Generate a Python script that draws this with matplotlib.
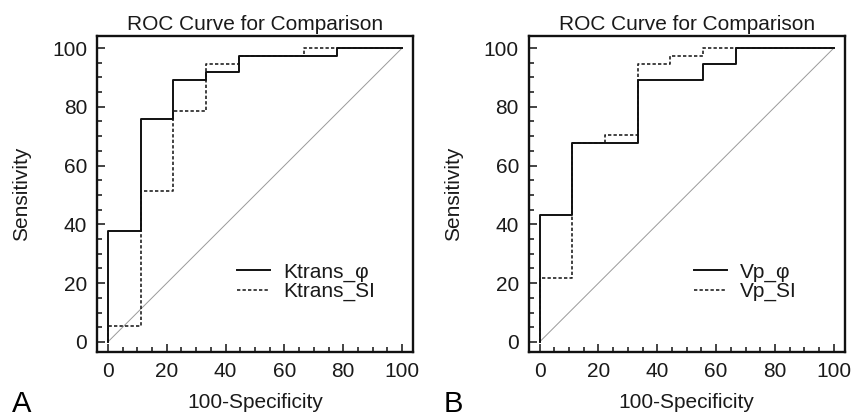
import matplotlib
matplotlib.use("Agg")
import matplotlib.pyplot as plt
from matplotlib.ticker import MultipleLocator

plt.rcParams['font.family'] = ['Liberation Sans', 'DejaVu Sans']

# ROC corner points (100-Specificity, Sensitivity), drawn as post steps
ktrans_phi_x = [0, 0, 11.1, 22.2, 33.3, 44.4, 77.8, 100]
ktrans_phi_y = [0, 37.8, 75.7, 89.2, 91.9, 97.3, 100, 100]
ktrans_si_x = [0, 0, 11.1, 22.2, 33.3, 44.4, 66.7, 100]
ktrans_si_y = [0, 5.4, 51.4, 78.4, 94.6, 97.3, 100, 100]

vp_phi_x = [0, 0, 11.1, 33.3, 55.6, 66.7, 100]
vp_phi_y = [0, 43.2, 67.6, 89.2, 94.6, 100, 100]
vp_si_x = [0, 0, 11.1, 22.2, 33.3, 44.4, 55.6, 100]
vp_si_y = [0, 21.6, 67.6, 70.3, 94.6, 97.3, 100, 100]

panels = [
    ("A", "Ktrans_φ", "Ktrans_SI", ktrans_phi_x, ktrans_phi_y, ktrans_si_x, ktrans_si_y),
    ("B", "Vp_φ", "Vp_SI", vp_phi_x, vp_phi_y, vp_si_x, vp_si_y),
]

fig = plt.figure(figsize=(8.52, 4.18), dpi=100)
lefts = [0.1138, 0.6205]
leg_x = [0.384, 0.464]
txt = '#1a1a1a'

for (letter, lab1, lab2, x1, y1, x2, y2), left, lx in zip(panels, lefts, leg_x):
    ax = fig.add_axes([left, 0.158, 0.371, 0.756])
    ax.plot([0, 100], [0, 100], color='#9a9a9a', lw=0.7)  # linea de referencia
    ax.step(x2, y2, where='post', color='#222222', lw=1.2, ls=(0, (2, 1.3)), label=lab2)
    ax.step(x1, y1, where='post', color='#111111', lw=1.4, label=lab1)
    ax.set_xlim(-3.7, 103.7)
    ax.set_ylim(-3.4, 104.1)
    ax.xaxis.set_major_locator(MultipleLocator(20))
    ax.yaxis.set_major_locator(MultipleLocator(20))
    ax.xaxis.set_minor_locator(MultipleLocator(5))
    ax.yaxis.set_minor_locator(MultipleLocator(5))
    ax.tick_params(which='both', direction='in', width=1.1, colors='#111111',
                   labelcolor=txt, labelsize=15, top=False, right=False)
    ax.tick_params(which='major', length=6, pad=7)
    ax.tick_params(which='minor', length=3.5)
    for s in ax.spines.values():
        s.set_linewidth(1.7)
        s.set_color('#111111')
    ax.set_title("ROC Curve for Comparison", fontsize=15, color=txt, pad=4)
    ax.set_xlabel("100-Specificity", fontsize=15, color=txt, labelpad=9)
    ax.set_ylabel("Sensitivity", fontsize=15, color=txt, labelpad=15)
    h, l = ax.get_legend_handles_labels()
    ax.legend(h[::-1], l[::-1], loc='center left', bbox_to_anchor=(lx, 0.222),
              frameon=False, fontsize=15, handlelength=1.6, handletextpad=0.6,
              labelspacing=0.0, labelcolor=txt)
    ax.text(-0.27, -0.19, letter, transform=ax.transAxes, fontsize=21,
            color='black', va='baseline', ha='left')

fig.savefig("out.png", dpi=100)
